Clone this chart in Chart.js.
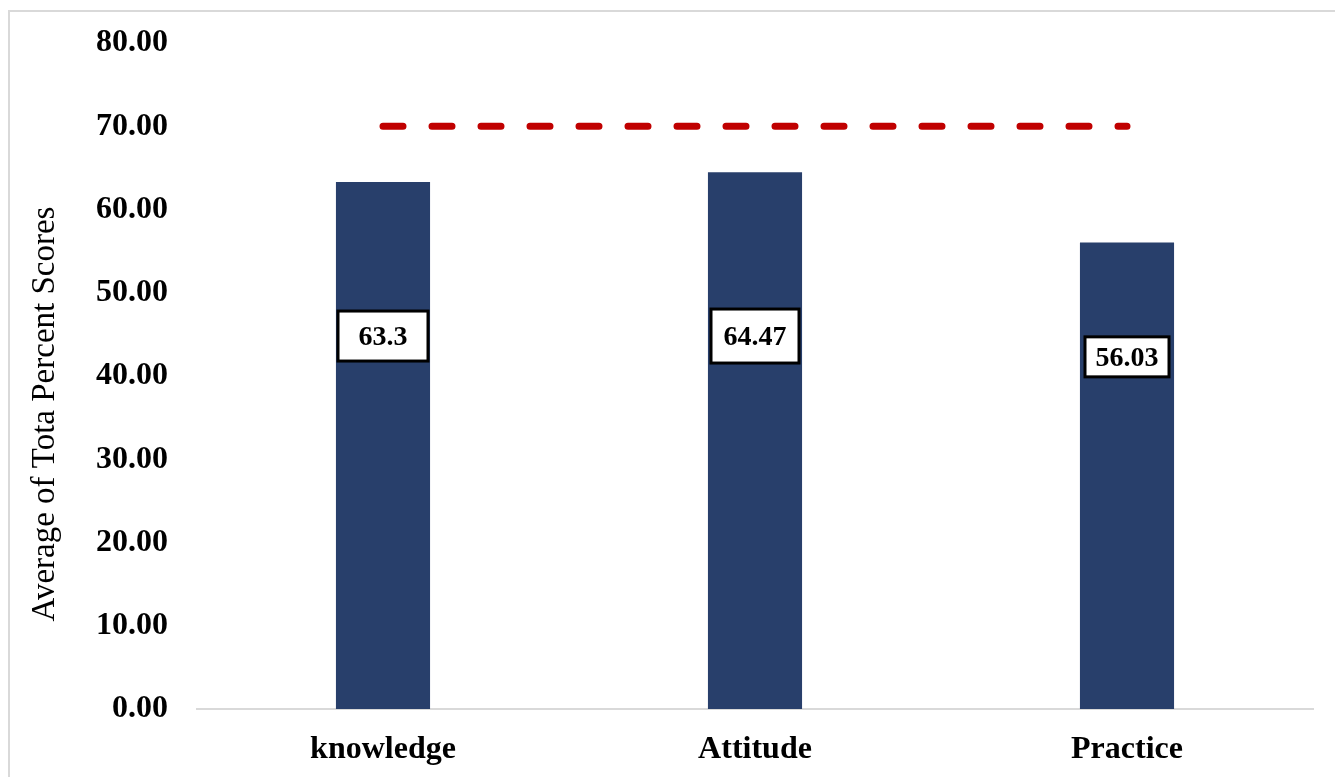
<!DOCTYPE html>
<html>
<head>
<meta charset="utf-8">
<script src="https://cdn.jsdelivr.net/npm/chart.js@4"></script>
<style>
  html, body { margin: 0; padding: 0; background: #fff; overflow: hidden; }
  #wrap { width: 1335px; height: 777px; }
</style>
</head>
<body>
<div id="wrap"><canvas id="dia1"></canvas></div>
<script>
// données du graphique
const categories = ["knowledge", "Attitude", "Practice"];
const scores = [63.3, 64.47, 56.03];
const cible = [70, 70, 70];
const scoreLabels = ["63.3", "64.47", "56.03"];
const yTicks = [0, 10, 20, 30, 40, 50, 60, 70, 80];
const yTitle = "Average of Tota Percent Scores";

const serif = "'Liberation Serif', 'Times New Roman', serif";

// cadre gris (gauche et haut) + titre de l'axe y
const cadre = {
  id: "cadre",
  beforeDraw(chart) {
    const ctx = chart.ctx;
    ctx.save();
    ctx.strokeStyle = "#d9d9d9";
    ctx.lineWidth = 2;
    ctx.beginPath();
    ctx.moveTo(9, chart.height);
    ctx.lineTo(9, 11);
    ctx.lineTo(chart.width, 11);
    ctx.stroke();
    ctx.restore();
  },
  afterDraw(chart) {
    const ctx = chart.ctx;
    ctx.save();
    ctx.translate(45, 414);
    ctx.rotate(-Math.PI / 2);
    ctx.font = "33px " + serif;
    ctx.fillStyle = "#000";
    ctx.textAlign = "center";
    ctx.textBaseline = "middle";
    ctx.fillText(yTitle, 0, 0);
    ctx.restore();
  }
};

// etiquettes dans des boites blanches
const boites = {
  id: "boites",
  afterDatasetsDraw(chart, args, opts) {
    const ctx = chart.ctx;
    const meta = chart.getDatasetMeta(1);
    const y = chart.scales.y;
    ctx.save();
    ctx.font = "bold 28px " + serif;
    ctx.textAlign = "center";
    ctx.textBaseline = "middle";
    meta.data.forEach((bar, i) => {
      const cy = y.getPixelForValue(opts.at[i]);
      const w = opts.w[i], h = opts.h[i];
      ctx.fillStyle = "#fff";
      ctx.fillRect(bar.x - w / 2, cy - h / 2, w, h);
      ctx.strokeStyle = "#000";
      ctx.lineWidth = 3;
      ctx.strokeRect(bar.x - w / 2, cy - h / 2, w, h);
      ctx.fillStyle = "#000";
      ctx.fillText(scoreLabels[i], bar.x, cy + 2);
    });
    ctx.restore();
  }
};

new Chart(document.getElementById("dia1"), {
  data: {
    labels: categories,
    datasets: [
      {
        type: "line",
        data: cible,
        borderColor: "#C00000",
        borderWidth: 7,
        borderDash: [20, 29],
        borderCapStyle: "round",
        pointRadius: 0,
        fill: false,
        order: 0
      },
      {
        type: "bar",
        data: scores,
        backgroundColor: "#283F6B",
        barPercentage: 0.253,
        categoryPercentage: 1,
        order: 1
      }
    ]
  },
  options: {
    responsive: true,
    maintainAspectRatio: false,
    animation: false,
    layout: { padding: { left: 14, top: 43, right: 22, bottom: 0 } },
    plugins: {
      legend: { display: false },
      tooltip: { enabled: false },
      boites: { at: [44.8, 44.8, 42.3], w: [90, 88, 84], h: [50, 54, 40] }
    },
    scales: {
      x: {
        grid: { display: false },
        border: { display: true, color: "#d9d9d9", width: 2 },
        ticks: { color: "#000", padding: 14, font: { family: serif, size: 32, weight: "bold" } },
        afterFit: s => { s.height = 68; }
      },
      y: {
        min: 0,
        max: 80,
        afterBuildTicks: s => { s.ticks = yTicks.map(v => ({ value: v })); },
        grid: { display: false, drawTicks: false },
        border: { display: false },
        ticks: {
          color: "#000",
          padding: 29,
          font: { family: serif, size: 32, weight: "bold", lineHeight: 1 },
          callback: v => Number(v).toFixed(2)
        },
        afterFit: s => { s.width = 183; s.paddingTop = 0; s.paddingBottom = 0; }
      }
    }
  },
  plugins: [cadre, boites]
});
</script>
</body>
</html>
